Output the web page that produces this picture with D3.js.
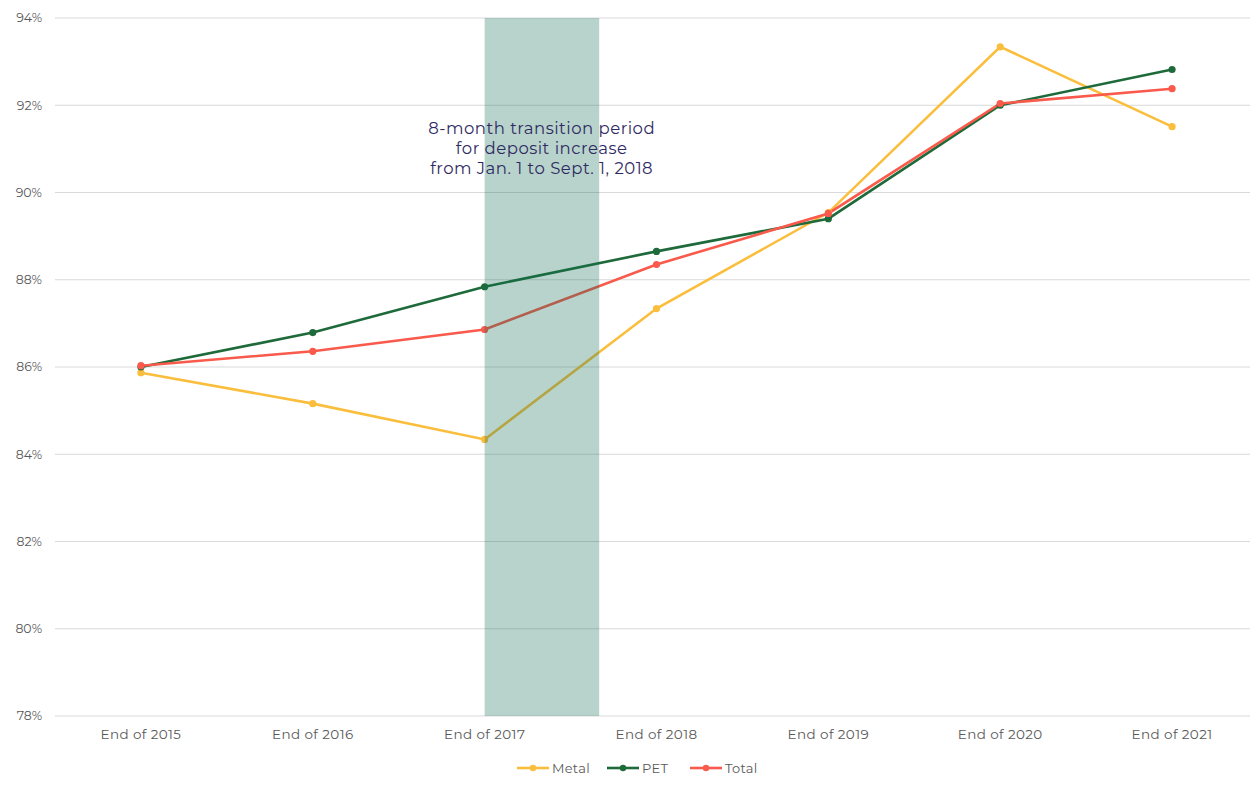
<!DOCTYPE html>
<html>
<head>
<meta charset="utf-8">
<script src="https://cdn.jsdelivr.net/npm/d3@7"></script>
<style>
  body { margin: 0; background: #fff; }
  #canvas { width: 1250px; height: 785px; }
  text { font-family: "Montserrat", "Lato", "Open Sans", sans-serif; }
</style>
</head>
<body>
<div id="canvas" class="canvas"></div>
<script>
// --- data
var years = ['End of 2015', 'End of 2016', 'End of 2017', 'End of 2018', 'End of 2019', 'End of 2020', 'End of 2021'];
var metal = [85.87, 85.16, 84.34, 87.34, 89.54, 93.34, 91.51];
var pet   = [86.0, 86.79, 87.84, 88.65, 89.40, 92.0, 92.82];
var total = [86.03, 86.36, 86.86, 88.35, 89.52, 92.04, 92.38];
var yTicks = [78, 80, 82, 84, 86, 88, 90, 92, 94];
var seriesNames = ['Metal', 'PET', 'Total'];
var noteLines = ['8-month transition period', 'for deposit increase', 'from Jan. 1 to Sept. 1, 2018'];
var transitionMonths = 8;

var colors = {Metal: '#fbbe3c', PET: '#1e6a3a', Total: '#f95a4c'};
var series = [
  {name: 'Metal', values: metal},
  {name: 'PET', values: pet},
  {name: 'Total', values: total}
];

// --- margins
var M = {top: 18, right: -8, bottom: 68, left: 55};
var outerWidth = 1250, outerHeight = 785;
var w = outerWidth - M.left - M.right,
    h = outerHeight - M.top - M.bottom - 1;

var svg = d3.select('.canvas')
  .append('svg')
  .attr('width', outerWidth)
  .attr('height', outerHeight);

var plot = svg.append('g')
  .attr('transform', 'translate(' + M.left + ',' + M.top + ')');

// --- scales
var scaleX = d3.scaleBand()
  .domain(years)
  .range([0, w])
  .padding(0);

var scaleY = d3.scaleLinear()
  .domain([78, 94])
  .range([h, 0]);

function cx(i) { return scaleX(years[i]) + scaleX.bandwidth() / 2; }

// --- grid
plot.selectAll('.grid')
  .data(yTicks)
  .enter().append('line')
  .attr('x1', 0)
  .attr('x2', 1250 - M.left)
  .attr('y1', function(d){ return scaleY(d); })
  .attr('y2', function(d){ return scaleY(d); })
  .attr('stroke', '#d9d9d9')
  .attr('stroke-width', 1.2);

// y labels
plot.selectAll('.ylab')
  .data(yTicks)
  .enter().append('text')
  .attr('x', -13)
  .attr('y', function(d){ return scaleY(d); })
  .attr('dy', '0.35em')
  .attr('text-anchor', 'end')
  .attr('font-size', 12.5)
  .attr('fill', '#595959')
  .text(function(d){ return d + '%'; });

// x labels
plot.selectAll('.xlab')
  .data(years)
  .enter().append('text')
  .attr('x', function(d, i){ return cx(i); })
  .attr('y', h + 23)
  .attr('text-anchor', 'middle')
  .attr('font-size', 13.5)
  .attr('letter-spacing', 0.4)
  .attr('fill', '#595959')
  .text(function(d){ return d; });

// --- lines
var line = d3.line()
  .x(function(d, i){ return cx(i); })
  .y(function(d){ return scaleY(d); });

series.forEach(function(s){
  plot.append('path')
    .attr('d', line(s.values))
    .attr('fill', 'none')
    .attr('stroke', colors[s.name])
    .attr('stroke-width', 2.6);
});

series.forEach(function(s){
  plot.selectAll('.pt-' + s.name)
    .data(s.values)
    .enter().append('circle')
    .attr('cx', function(d, i){ return cx(i); })
    .attr('cy', function(d){ return scaleY(d); })
    .attr('r', 3.6)
    .attr('fill', colors[s.name]);
});

// --- shaded transition period (over the lines)
var x2017 = cx(2);
plot.append('rect')
  .attr('x', x2017)
  .attr('y', 0)
  .attr('width', scaleX.bandwidth() * transitionMonths / 12)
  .attr('height', h)
  .attr('fill', 'rgb(15,108,82)')
  .attr('opacity', 0.3);

// annotation
plot.append('g')
  .selectAll('text')
  .data(noteLines)
  .enter().append('text')
  .attr('x', x2017 + 57)
  .attr('y', function(d, i){ return 116 + i * 20; })
  .attr('text-anchor', 'middle')
  .attr('font-size', 16.5)
  .attr('letter-spacing', 0.5)
  .attr('fill', '#2f2a62')
  .text(function(d){ return d; });

// --- legend
var legendX = [517, 607, 690];
var legend = svg.append('g');
seriesNames.forEach(function(n, i){
  var g = legend.append('g').attr('transform', 'translate(' + legendX[i] + ',768)');
  g.append('line')
    .attr('x1', 0).attr('x2', 32)
    .attr('y1', 0).attr('y2', 0)
    .attr('stroke', colors[n])
    .attr('stroke-width', 2.6);
  g.append('circle')
    .attr('cx', 16).attr('cy', 0).attr('r', 3.2)
    .attr('fill', colors[n]);
  g.append('text')
    .attr('x', 35).attr('y', 0).attr('dy', '0.35em')
    .attr('font-size', 13)
    .attr('letter-spacing', 0.3)
    .attr('fill', '#595959')
    .text(n);
});
</script>
</body>
</html>
